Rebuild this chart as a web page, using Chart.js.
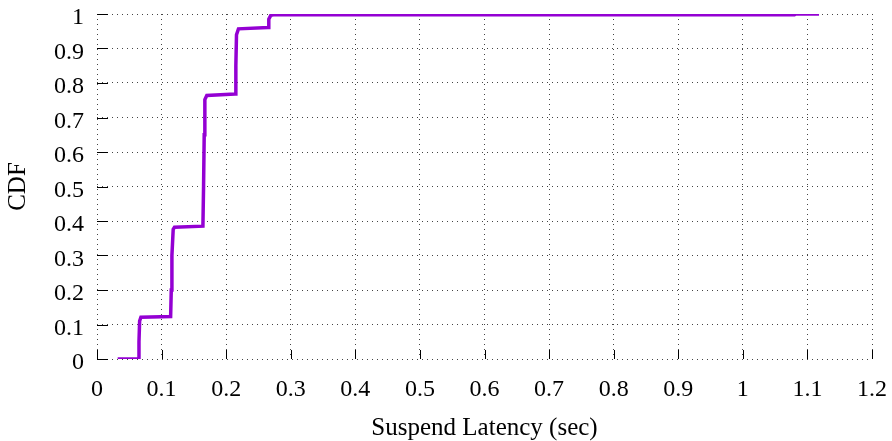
<!DOCTYPE html>
<html>
<head>
<meta charset="utf-8">
<script src="https://cdn.jsdelivr.net/npm/chart.js@4/dist/chart.umd.min.js"></script>
<style>
  html, body { margin: 0; padding: 0; background: #fff; }
  canvas { display: block; }
</style>
</head>
<body>
<canvas id="cdf" width="892" height="441"></canvas>
<script>
// Suspend latency samples (seconds) and cumulative fraction
const latency = [0.032, 0.064, 0.065, 0.066, 0.068, 0.114, 0.115, 0.116, 0.118, 0.120,
                 0.164, 0.165, 0.166, 0.167, 0.170, 0.214, 0.215, 0.216, 0.219,
                 0.265, 0.266, 0.269, 0.273, 1.080, 1.082, 1.118];
const cdf     = [0.000, 0.000, 0.050, 0.110, 0.121, 0.123, 0.200, 0.300, 0.376, 0.382,
                 0.385, 0.500, 0.650, 0.752, 0.764, 0.768, 0.850, 0.940, 0.957,
                 0.961, 0.985, 0.996, 0.998, 0.998, 1.000, 1.000];
const xTicks = [0, 0.1, 0.2, 0.3, 0.4, 0.5, 0.6, 0.7, 0.8, 0.9, 1, 1.1, 1.2];
const yTicks = [0, 0.1, 0.2, 0.3, 0.4, 0.5, 0.6, 0.7, 0.8, 0.9, 1];

const points = latency.map((x, i) => ({ x: x, y: cdf[i] }));
const fmt = v => String(Math.round(v * 10) / 10);

// short tick marks pointing into the plot area
const innerTicks = {
  id: 'innerTicks',
  afterDraw(chart) {
    const ctx = chart.ctx;
    const xs = chart.scales.x, ys = chart.scales.y;
    const a = chart.chartArea;
    ctx.save();
    ctx.strokeStyle = '#000';
    ctx.lineWidth = 1;
    ctx.beginPath();
    xTicks.forEach(v => {
      const px = Math.round(xs.getPixelForValue(v)) + 0.5;
      ctx.moveTo(px, a.bottom);
      ctx.lineTo(px, a.bottom - 9);
    });
    yTicks.forEach(v => {
      const py = Math.round(ys.getPixelForValue(v)) + 0.5;
      ctx.moveTo(a.left, py);
      ctx.lineTo(a.left + 11, py);
    });
    ctx.stroke();
    ctx.restore();
  }
};

const serif = "'Liberation Serif', 'Times New Roman', serif";

new Chart(document.getElementById('cdf'), {
  type: 'line',
  data: {
    datasets: [{
      data: points,
      borderColor: '#9400d3',
      borderWidth: 3.5,
      pointRadius: 0,
      tension: 0,
      fill: false
    }]
  },
  options: {
    responsive: false,
    animation: false,
    layout: { padding: { left: 0, right: 20, top: 14, bottom: 0 } },
    plugins: { legend: { display: false }, tooltip: { enabled: false } },
    scales: {
      x: {
        type: 'linear',
        min: 0, max: 1.2,
        afterBuildTicks(scale) { scale.ticks = xTicks.map(v => ({ value: v })); },
        afterFit(scale) {
          scale.height = 82;
          scale.paddingLeft = 0; scale.paddingRight = 0;
        },
        border: { display: false, dash: [1, 4] },
        grid: { color: '#444', lineWidth: 1, drawTicks: false },
        ticks: {
          padding: 16, color: '#000', maxRotation: 0, autoSkip: false,
          font: { family: serif, size: 24 },
          callback: v => fmt(v)
        },
        title: {
          display: true, text: 'Suspend Latency (sec)', color: '#000',
          font: { family: serif, size: 25, lineHeight: 1 },
          padding: { top: 0, bottom: 0 }
        }
      },
      y: {
        type: 'linear',
        min: 0, max: 1,
        afterBuildTicks(scale) { scale.ticks = yTicks.map(v => ({ value: v })); },
        afterFit(scale) {
          scale.width = 97;
          scale.paddingTop = 0; scale.paddingBottom = 0;
        },
        border: { display: false, dash: [1, 4] },
        grid: { color: '#444', lineWidth: 1, drawTicks: false },
        ticks: {
          padding: 13, color: '#000', autoSkip: false, labelOffset: 4,
          font: { family: serif, size: 24 },
          callback: v => fmt(v)
        },
        title: {
          display: true, text: 'CDF', color: '#000',
          font: { family: serif, size: 25, lineHeight: 1 },
          padding: { top: 6, bottom: 0 }
        }
      }
    }
  },
  plugins: [innerTicks]
});
</script>
</body>
</html>
